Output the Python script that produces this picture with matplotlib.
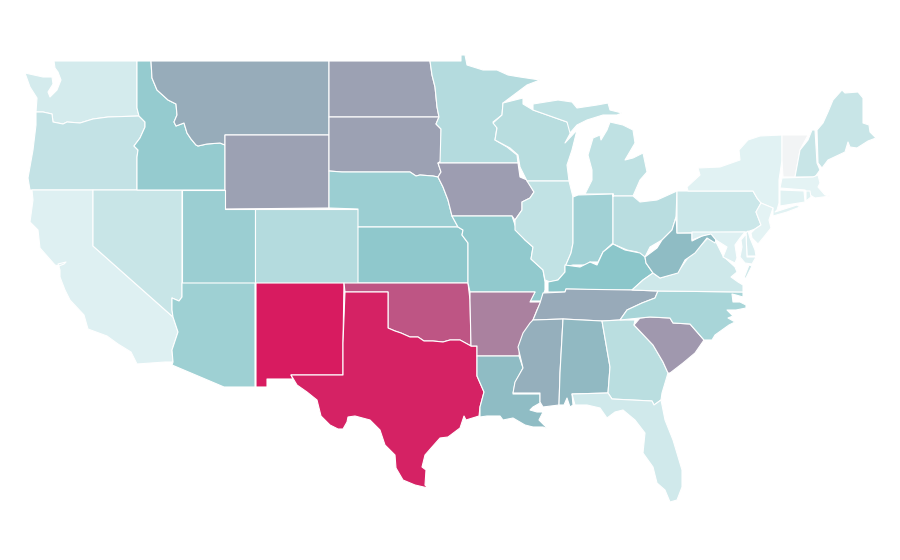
import matplotlib
matplotlib.use('Agg')
import matplotlib.pyplot as plt
from matplotlib.collections import PatchCollection
from matplotlib.colors import LinearSegmentedColormap
from matplotlib.patches import Polygon

# value per state (0-100)
states = ['WA', 'OR', 'CA', 'NV', 'ID', 'MT', 'WY', 'UT', 'CO', 'AZ', 'NM',
          'ND', 'SD', 'NE', 'KS', 'OK', 'TX', 'MN', 'IA', 'MO', 'AR', 'LA',
          'WI', 'IL', 'MI', 'IN', 'OH', 'KY', 'TN', 'MS', 'AL', 'GA', 'FL',
          'SC', 'NC', 'VA', 'WV', 'PA', 'NY', 'VT', 'NH', 'ME', 'MA', 'CT',
          'RI', 'NJ', 'DE', 'MD']
values = [10, 15.5, 7, 14, 30, 43, 47.5, 28, 20, 27, 100,
          47.5, 47.5, 28, 32, 77, 97, 20, 49, 31, 60, 37,
          19, 16, 16.5, 26, 18.5, 33, 44, 42, 38, 18, 11,
          51, 24, 12, 37, 12.5, 5.5, 0, 14, 14, 5, 5.5,
          6, 5, 8, 7]

# state outlines, in pixels
outlines = {
    'WA': [[(54, 61), (137, 61), (137, 108), (139, 116), (108, 117), (93, 119), (80, 123), (67, 122), (63, 124),
            (53, 122), (52, 114), (43, 112), (36, 112), (37, 98), (30, 87), (25, 73), (43, 77), (52, 77), (53, 84),
            (48, 92), (50, 97), (57, 90), (61, 80), (58, 72), (55, 68)]],
    'OR': [[(36, 112), (43, 112), (52, 114), (53, 122), (63, 124), (67, 122), (80, 123), (93, 119), (108, 117),
            (139, 116), (145, 122), (145, 127), (140, 138), (134, 146), (138, 150), (137, 157), (137, 190), (30, 190),
            (28, 178), (33, 150), (36, 125)]],
    'CA': [[(32, 190), (93, 190), (93, 246), (173, 317), (178, 332), (172, 350), (173, 362), (165, 362), (137, 364),
            (135, 360), (131, 352), (118, 344), (107, 336), (88, 329), (84, 315), (70, 300), (65, 290), (60, 277),
            (60, 270), (58, 264), (66, 262), (64, 264), (59, 266), (55, 265), (40, 248), (38, 230),
            (30, 222), (33, 200)]],
    'NV': [[(93, 190), (182, 190), (182, 297), (179, 301), (172, 298), (172, 310), (173, 317), (93, 246)]],
    'ID': [[(137, 61), (151, 61), (152, 78), (157, 90), (168, 100), (176, 104), (177, 115), (174, 122), (176, 126),
            (184, 123), (187, 133), (191, 139), (196, 145), (198, 146), (207, 144), (220, 143), (225, 145), (225, 190),
            (137, 190), (137, 157), (138, 150), (134, 146), (140, 138), (145, 127), (145, 122), (139, 116), (137, 108)]],
    'MT': [[(151, 61), (329, 61), (329, 135), (225, 135), (225, 145), (220, 143), (207, 144), (198, 146), (196, 145),
            (191, 139), (187, 133), (184, 123), (176, 126), (174, 122), (177, 115), (176, 104), (168, 100), (157, 90),
            (152, 78)]],
    'WY': [[(225, 135), (329, 135), (329, 208), (225, 209)]],
    'UT': [[(182, 190), (225, 190), (225, 209), (255, 209), (255, 283), (182, 283)]],
    'CO': [[(255, 209), (358, 209), (358, 283), (255, 283)]],
    'AZ': [[(182, 283), (255, 283), (255, 387), (224, 387), (172, 365), (173, 362), (172, 350), (178, 332), (173, 317),
            (172, 310), (172, 298), (179, 301), (182, 297)]],
    'NM': [[(256, 283), (344, 283), (343, 343), (343, 375), (291, 375), (293, 379), (267, 379), (267, 387), (256, 387)]],
    'ND': [[(329, 61), (430, 61), (432, 75), (435, 87), (437, 107), (439, 117), (329, 117)]],
    'SD': [[(329, 117), (439, 117), (436, 124), (441, 129), (441, 161), (438, 163), (441, 172), (438, 177), (433, 176),
            (420, 175), (416, 176), (410, 172), (342, 172), (329, 171)]],
    'NE': [[(329, 171), (342, 172), (410, 172), (416, 176), (420, 175), (433, 176), (438, 177), (443, 187), (448, 200),
            (452, 216), (458, 227), (358, 227), (358, 209), (329, 208)]],
    'KS': [[(358, 227), (458, 227), (463, 230), (462, 235), (468, 243), (468, 283), (358, 283)]],
    'OK': [[(344, 283), (468, 283), (470, 300), (471, 346), (460, 340), (450, 340), (443, 342), (433, 341), (424, 341),
            (418, 337), (410, 337), (401, 333), (395, 331), (388, 328), (388, 292), (345, 292)]],
    'TX': [[(345, 292), (388, 292), (388, 328), (395, 331), (401, 333), (410, 337), (418, 337), (424, 341), (433, 341),
            (443, 342), (450, 340), (460, 340), (471, 346), (477, 346), (477, 376), (484, 392), (480, 407), (479, 416),
            (466, 420), (464, 416), (460, 428), (448, 437), (440, 438), (432, 447), (425, 455), (422, 467), (426, 470),
            (425, 485), (428, 488), (415, 485), (403, 480), (396, 468), (395, 455), (385, 445), (380, 430), (370, 420),
            (355, 416), (348, 417), (347, 422), (343, 429), (338, 429), (330, 425), (321, 416), (317, 400), (307, 392),
            (297, 385), (291, 375), (343, 375), (343, 343)]],
    'MN': [[(430, 61), (461, 61), (461, 55), (465, 55), (467, 65), (483, 70), (497, 70), (508, 75), (520, 77), (540, 80),
            (527, 85), (503, 103), (502, 115), (493, 122), (497, 127), (495, 140), (507, 147), (517, 155), (518, 163),
            (440, 163), (441, 129), (436, 124), (439, 117), (437, 107), (435, 87), (432, 75)]],
    'IA': [[(440, 163), (518, 163), (520, 177), (527, 180), (534, 192), (530, 198), (522, 202), (522, 210), (515, 220),
            (512, 216), (452, 216), (448, 200), (443, 187), (438, 177), (441, 172), (438, 163)]],
    'MO': [[(452, 216), (512, 216), (516, 228), (525, 240), (533, 247), (531, 259), (543, 270), (545, 282), (545, 290),
            (541, 301), (530, 301), (535, 292), (470, 292), (468, 283), (468, 243), (462, 235), (463, 230), (458, 227)]],
    'AR': [[(470, 292), (535, 292), (530, 302), (541, 302), (537, 310), (533, 320), (525, 333), (520, 345), (519, 356),
            (477, 356), (477, 346), (471, 346), (470, 300)]],
    'LA': [[(477, 356), (519, 356), (523, 368), (515, 383), (513, 394), (540, 394), (540, 403), (533, 407), (530, 410),
            (537, 412), (543, 412), (539, 420), (548, 429), (543, 427), (533, 427), (525, 425), (513, 418), (503, 420),
            (500, 416), (487, 416), (480, 417), (480, 407), (484, 392), (477, 376)]],
    'WI': [[(503, 103), (523, 98), (523, 104), (533, 110), (567, 122), (572, 130), (565, 143), (577, 130), (572, 150),
            (567, 165), (569, 181), (527, 181), (520, 167), (518, 155), (510, 148), (495, 140), (497, 128), (493, 123),
            (502, 115)]],
    'IL': [[(527, 181), (569, 181), (573, 197), (573, 243), (571, 253), (565, 267), (565, 272), (558, 280), (550, 282),
            (545, 280), (543, 270), (531, 259), (533, 247), (525, 240), (515, 230), (515, 220), (522, 210), (522, 202),
            (530, 198), (534, 192)]],
    'MI': [[(533, 110), (533, 104), (558, 100), (572, 102), (577, 108), (597, 105), (608, 103), (610, 110), (622, 113),
            (617, 115), (603, 115), (587, 120), (577, 125), (570, 133), (567, 122)],
           [(585, 194), (592, 180), (592, 170), (588, 155), (593, 138), (600, 135), (601, 140), (607, 130), (610, 122),
            (623, 125), (633, 130), (635, 143), (625, 160), (633, 158), (643, 153), (647, 172), (640, 180), (633, 196),
            (613, 196), (613, 194)]],
    'IN': [[(573, 197), (578, 195), (613, 194), (613, 243), (603, 252), (598, 262), (590, 262), (587, 265), (573, 265),
            (565, 267), (571, 253), (573, 243)]],
    'OH': [[(613, 194), (613, 196), (633, 196), (640, 202), (657, 200), (677, 191), (676, 217), (672, 230), (662, 240),
            (650, 247), (645, 257), (637, 252), (627, 250), (613, 244)]],
    'KY': [[(613, 244), (625, 250), (640, 253), (645, 257), (646, 263), (653, 273), (643, 280), (632, 290), (605, 290),
            (566, 289), (565, 292), (548, 292), (548, 282), (558, 280), (565, 272), (565, 265), (580, 267), (590, 262),
            (597, 265), (603, 252)]],
    'TN': [[(566, 289), (632, 290), (658, 291), (655, 298), (642, 303), (627, 310), (620, 320), (602, 321), (563, 319),
            (533, 320), (540, 303), (543, 293), (565, 292)]],
    'MS': [[(533, 320), (563, 319), (560, 373), (559, 405), (543, 407), (540, 402), (540, 393), (513, 393), (515, 382),
            (523, 368), (518, 347), (523, 333), (530, 323)]],
    'AL': [[(563, 319), (602, 321), (610, 367), (608, 393), (572, 394), (573, 405), (570, 407), (567, 398), (564, 405),
            (559, 405), (560, 373)]],
    'GA': [[(602, 321), (620, 320), (635, 320), (634, 325), (653, 345), (663, 362), (668, 373), (665, 383), (662, 393),
            (661, 400), (654, 405), (652, 401), (612, 399), (608, 393), (610, 367)]],
    'FL': [[(572, 394), (608, 393), (612, 399), (652, 401), (654, 405), (661, 400), (665, 420), (673, 440), (682, 470),
            (682, 487), (677, 500), (670, 502), (665, 490), (657, 483), (653, 467), (643, 453), (645, 433), (635, 420),
            (623, 410), (615, 412), (607, 418), (600, 408), (587, 405), (575, 405)]],
    'SC': [[(634, 325), (640, 318), (650, 317), (670, 318), (673, 323), (690, 324), (704, 340), (695, 353), (683, 363),
            (670, 373), (668, 373), (663, 362), (653, 345)]],
    'NC': [[(658, 291), (743, 292), (743, 297), (736, 295), (732, 294), (733, 302), (740, 302), (746, 305), (746, 308),
            (741, 309), (736, 310), (727, 310), (733, 316), (728, 318), (735, 322), (729, 325), (715, 335), (712, 340),
            (704, 340), (690, 324), (673, 323), (670, 318), (650, 317), (640, 318), (620, 320), (627, 310), (642, 303),
            (655, 298)]],
    'VA': [[(632, 290), (643, 280), (653, 273), (660, 278), (677, 273), (690, 255), (697, 249), (708, 238), (716, 242),
            (723, 256), (735, 267), (737, 272), (731, 277), (738, 282), (743, 285), (743, 292), (658, 291)],
           [(749, 265), (752, 266), (746, 278), (744, 278)]],
    'WV': [[(676, 217), (677, 233), (692, 233), (692, 241), (702, 236), (711, 233), (716, 239), (715, 243), (707, 238),
            (695, 253), (685, 260), (678, 273), (660, 278), (653, 273), (646, 263), (645, 257), (657, 248), (662, 240),
            (672, 230)]],
    'PA': [[(677, 191), (688, 191), (753, 191), (757, 198), (761, 203), (756, 212), (761, 225), (755, 229), (747, 232),
            (677, 233)]],
    'NY': [[(688, 191), (687, 187), (700, 175), (698, 168), (720, 167), (740, 160), (739, 150), (748, 140), (760, 136),
            (782, 135), (782, 160), (779, 180), (779, 203), (777, 210), (775, 212), (797, 205), (800, 207), (787, 212),
            (773, 216), (773, 208), (761, 203), (757, 198), (753, 191)]],
    'VT': [[(782, 135), (808, 135), (800, 150), (795, 177), (783, 177), (782, 160)]],
    'NH': [[(812, 130), (815, 130), (817, 163), (820, 170), (815, 177), (795, 177), (800, 150), (808, 140)]],
    'ME': [[(817, 130), (823, 123), (828, 112), (833, 100), (842, 90), (845, 93), (858, 92), (863, 98), (863, 123),
            (869, 125), (870, 132), (876, 138), (868, 141), (857, 148), (850, 147), (848, 142), (845, 152), (828, 160),
            (822, 168), (818, 163)]],
    'MA': [[(782, 178), (813, 177), (818, 175), (820, 183), (818, 187), (825, 195), (830, 196), (823, 197), (815, 198),
            (810, 195), (805, 190), (780, 188)]],
    'CT': [[(780, 190), (804, 191), (805, 202), (780, 206)]],
    'RI': [[(806, 191), (810, 191), (811, 197), (806, 201)]],
    'NJ': [[(761, 203), (773, 208), (769, 220), (771, 228), (763, 238), (758, 244), (752, 238), (751, 233), (755, 229),
            (761, 225), (756, 212)]],
    'DE': [[(748, 231), (746, 233), (747, 256), (756, 256), (755, 250), (750, 238)]],
    'MD': [[(692, 232), (745, 232), (740, 238), (735, 245), (737, 258), (735, 263), (723, 257), (727, 247), (716, 240),
            (711, 234), (702, 236), (692, 240)],
           [(746, 234), (747, 257), (756, 257), (752, 264), (745, 263), (740, 257), (742, 247), (741, 240)]],
}

cmap = LinearSegmentedColormap.from_list(
    'rate', [(0, '#f2f4f5'), (0.05, '#e3f3f4'), (0.33, '#8bc6ca'), (1, '#d81b60')])

fig = plt.figure(figsize=(9, 5.6), dpi=100)
ax = fig.add_axes([0, 0, 1, 1])

patches = []
patch_values = []
for state, value in zip(states, values):
    for ring in outlines[state]:
        patches.append(Polygon(ring, closed=True))
        patch_values.append(value)

coll = PatchCollection(patches, cmap=cmap, edgecolor='white', linewidth=0.8)
coll.set_array(patch_values)
coll.set_clim(0, 100)
ax.add_collection(coll)

ax.set_xlim(0, 900)
ax.set_ylim(560, 0)
ax.axis('off')

fig.savefig('out.png', dpi=100)
